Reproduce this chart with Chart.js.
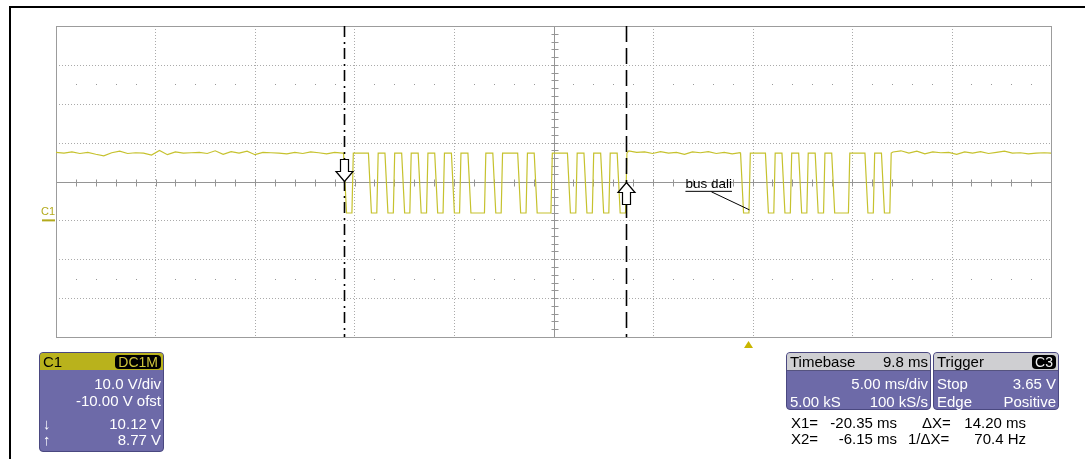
<!DOCTYPE html>
<html>
<head>
<meta charset="utf-8">
<script src="https://cdn.jsdelivr.net/npm/chart.js@4.4.1/dist/chart.umd.min.js"></script>
<style>
  body { margin:0; background:#fff; font-family:"Liberation Sans", Arial, sans-serif; }
  #wrap { position:relative; width:1085px; height:459px; overflow:hidden; }
  #frame { position:absolute; left:9px; top:6px; width:1200px; height:600px; border:2px solid #000; }
  #scope { position:absolute; left:0; top:0; }
  .box { position:absolute; box-sizing:border-box; background:#6d6aa8; border:1px solid #4a4880; border-radius:4px; color:#fff; font-size:15px; }
  .hdr { position:absolute; left:0; right:0; top:0; height:17px; line-height:17px; border-radius:3px 3px 0 0; display:flex; justify-content:space-between; align-items:center; padding:0 2px 0 3px; color:#000; }
  .yel { background:#b9b21c; }
  .gry { background:#cfcfd2; border-bottom:1px solid #55537f; }
  .badge { background:#000; border-radius:4px; padding:0 3px; line-height:14px; font-size:14px; }
  .row { position:absolute; left:3px; right:2px; height:17px; line-height:17px; display:flex; justify-content:space-between; white-space:pre; }
  .rd { position:absolute; font-size:15px; line-height:17px; color:#000; white-space:pre; }
</style>
</head>
<body>
<div id="wrap">
  <div id="frame"></div>
  <canvas id="scope" width="1085" height="459"></canvas>

  <div class="box" style="left:39px;top:352px;width:125px;height:100px">
    <div class="hdr yel"><span>C1</span><span class="badge" style="color:#cfc53c">DC1M</span></div>
    <div class="row" style="top:22px"><span></span><span>10.0 V/div</span></div>
    <div class="row" style="top:39px"><span></span><span>-10.00 V ofst</span></div>
    <div class="row" style="top:62px"><span>↓</span><span>10.12 V</span></div>
    <div class="row" style="top:78px"><span>↑</span><span>8.77 V</span></div>
  </div>

  <div class="box" style="left:786px;top:352px;width:145px;height:58px">
    <div class="hdr gry"><span>Timebase</span><span>9.8 ms</span></div>
    <div class="row" style="top:22px"><span></span><span>5.00 ms/div</span></div>
    <div class="row" style="top:40px"><span>5.00 kS</span><span>100 kS/s</span></div>
  </div>

  <div class="box" style="left:933px;top:352px;width:126px;height:58px">
    <div class="hdr gry"><span>Trigger</span><span class="badge" style="color:#eee">C3</span></div>
    <div class="row" style="top:22px"><span>Stop</span><span>3.65 V</span></div>
    <div class="row" style="top:40px"><span>Edge</span><span>Positive</span></div>
  </div>

  <div class="rd" style="left:791px;top:414px">X1=</div>
  <div class="rd" style="left:820px;top:414px;width:77px;text-align:right">-20.35 ms</div>
  <div class="rd" style="left:922px;top:414px">ΔX=</div>
  <div class="rd" style="left:950px;top:414px;width:76px;text-align:right">14.20 ms</div>
  <div class="rd" style="left:791px;top:430px">X2=</div>
  <div class="rd" style="left:820px;top:430px;width:77px;text-align:right">-6.15 ms</div>
  <div class="rd" style="left:908px;top:430px">1/ΔX=</div>
  <div class="rd" style="left:950px;top:430px;width:76px;text-align:right">70.4 Hz</div>
</div>

<script>
// screen: 10 div x 5 ms, centre at -9.8 ms ; 8 div x 10 V, centre at +10 V
const xGridMs   = [-34.8, -29.8, -24.8, -19.8, -14.8, -9.8, -4.8, 0.2, 5.2, 10.2, 15.2];
const yGridV    = [-30, -20, -10, 0, 10, 20, 30, 40, 50];
const centerMs  = -9.8;
const centerV   = 10;
const dotRowsV  = [35, -15];
const cursorMs  = [-20.35, -6.15];
const triggerMs = 0;
const groundV   = 0;

// bus levels
const highV = 17.3, lowV = 1.9;

// forward frame (start + 16 bits), edge times in ms, first edge falls
const fwdEdgesMs = [-20.35, -19.93, -19.10, -18.68, -18.27, -17.85, -17.43, -17.02, -16.60, -16.18,
                    -15.77, -15.35, -14.93, -14.52, -14.10, -13.27, -12.85, -12.43, -11.60, -11.18,
                    -10.77, -9.93, -9.10, -8.68, -8.27, -7.85, -7.43, -7.02, -6.60, -6.18];
// backward frame (start + 8 bits)
const bwdEdgesMs = [-0.40, 0.02, 0.85, 1.27, 1.68, 2.10, 2.52, 2.93, 3.35, 3.77,
                    4.18, 5.02, 5.85, 6.27, 6.68, 7.10];

// idle (high) stretches with their noise, sampled every 0.4 ms
const idleStartMs = [-34.8, -6.02, 7.26];
const idleStepMs  = 0.4;
const idle1V = [17.5, 17.3, 17.6, 17.2, 17.5, 17.0, 16.6, 17.4, 17.8, 17.2, 17.4, 17.3, 16.8, 18.0, 16.9, 17.6,
                17.3, 17.4, 17.5, 17.2, 17.9, 17.0, 17.7, 17.3, 17.8, 16.9, 17.5, 17.4, 17.3, 17.1, 17.5, 17.2,
                17.6, 17.4, 17.1, 17.5, 17.3];
const idle2V = [17.9, 17.5, 17.6, 17.2, 17.7, 17.3, 17.5, 17.0, 17.6, 17.4, 17.7, 17.2, 17.5, 17.1, 17.4];
const idle3V = [17.6, 17.9, 17.3, 17.8, 17.1, 17.6, 17.4, 17.5, 17.0, 17.6, 17.3, 17.7, 17.2, 17.5, 17.8,
                17.3, 17.4, 17.1, 17.3, 17.4, 17.3, 17.4];

const fallMs = 0.15, riseMs = 0.07;

function buildTrace()
{
  const pts    = [];
  const idles  = [idle1V, idle2V, idle3V];
  const frames = [fwdEdgesMs, bwdEdgesMs];
  idles.forEach((vals, i) => {
    vals.forEach((v, j) => pts.push({ x: idleStartMs[i] + j * idleStepMs, y: v }));
    const edges = frames[i];
    if (!edges) return;
    let level = highV;
    edges.forEach(t => {
      const next = level === highV ? lowV : highV;
      pts.push({ x: t, y: level }, { x: t + (next === lowV ? fallMs : riseMs), y: next });
      level = next;
    });
  });
  return pts;
}

function seg(ctx, x1, y1, x2, y2) { ctx.beginPath(); ctx.moveTo(x1, y1); ctx.lineTo(x2, y2); ctx.stroke(); }

function arrow(ctx, x, tipY, dir)
{
  // dir = 1 points down, -1 points up
  const h = 10 * dir, s = 22 * dir;
  ctx.beginPath();
  ctx.moveTo(x, tipY);
  ctx.lineTo(x - 8.5, tipY - h);
  ctx.lineTo(x - 4, tipY - h);
  ctx.lineTo(x - 4, tipY - s);
  ctx.lineTo(x + 4, tipY - s);
  ctx.lineTo(x + 4, tipY - h);
  ctx.lineTo(x + 8.5, tipY - h);
  ctx.closePath();
  ctx.fillStyle = '#fff'; ctx.fill();
  ctx.strokeStyle = '#000'; ctx.lineWidth = 1.2; ctx.setLineDash([]); ctx.stroke();
}

const scopeGrid = {
  id: 'scopeGrid',
  beforeDatasetsDraw(chart) {
    const { ctx, chartArea: a, scales: { x, y } } = chart;
    const px = v => Math.round(x.getPixelForValue(v)) + 0.5;
    const py = v => Math.round(y.getPixelForValue(v)) + 0.5;
    ctx.save();
    ctx.lineWidth = 1;

    // dotted divisions
    ctx.strokeStyle = '#aaa';
    ctx.setLineDash([1, 2]);
    xGridMs.slice(1, -1).forEach(v => { if (v !== centerMs) seg(ctx, px(v), a.top, px(v), a.bottom); });
    yGridV.slice(1, -1).forEach(v => { if (v !== centerV) seg(ctx, a.left, py(v), a.right, py(v)); });
    ctx.setLineDash([]);

    // dot rows at half divisions
    ctx.fillStyle = '#999';
    dotRowsV.forEach(v => {
      for (let t = xGridMs[0] + 1; t < xGridMs[xGridMs.length - 1]; t += 1) {
        const r = (t - xGridMs[0]) % 5;
        if (r < 0.01 || r > 4.99) continue;
        ctx.fillRect(Math.round(x.getPixelForValue(t)), Math.round(y.getPixelForValue(v)), 1, 1);
      }
    });

    // centre axes with minor ticks
    ctx.strokeStyle = '#959595';
    seg(ctx, a.left, py(centerV), a.right, py(centerV));
    seg(ctx, px(centerMs), a.top, px(centerMs), a.bottom);
    for (let t = xGridMs[0] + 1; t < xGridMs[xGridMs.length - 1]; t += 1)
      seg(ctx, px(t), py(centerV) - 3, px(t), py(centerV) + 4);
    for (let v = yGridV[0] + 2; v < yGridV[yGridV.length - 1]; v += 2)
      seg(ctx, px(centerMs) - 3, py(v), px(centerMs) + 4, py(v));

    // outline
    ctx.strokeStyle = '#9c9c9c';
    ctx.strokeRect(a.left + 0.5, a.top + 0.5, a.right - a.left, a.bottom - a.top);
    ctx.restore();
  },
  afterDatasetsDraw(chart) {
    const { ctx, chartArea: a, scales: { x, y } } = chart;
    ctx.save();

    // cursors
    ctx.strokeStyle = '#000';
    ctx.lineWidth = 1.6;
    const c1 = Math.round(x.getPixelForValue(cursorMs[0])) + 0.5;
    const c2 = Math.round(x.getPixelForValue(cursorMs[1])) + 0.5;
    ctx.setLineDash([11, 5, 2, 4]);
    seg(ctx, c1, a.top, c1, a.bottom);
    ctx.setLineDash([16, 6]);
    seg(ctx, c2, a.top, c2, a.bottom);
    const yc = y.getPixelForValue(centerV);
    arrow(ctx, c1, yc, 1);
    arrow(ctx, c2, yc + 1, -1);

    // bus dali annotation
    const lx = x.getPixelForValue(-3.17), ly = y.getPixelForValue(9.4);
    ctx.fillStyle = '#000';
    ctx.font = '13.5px "Liberation Sans", Arial, sans-serif';
    ctx.textBaseline = 'middle';
    ctx.fillText('bus dali', lx, ly);
    const w = ctx.measureText('bus dali').width;
    ctx.lineWidth = 1;
    seg(ctx, lx, ly + 7.5, lx + w, ly + 7.5);
    seg(ctx, lx + 26, ly + 8, x.getPixelForValue(0.05), y.getPixelForValue(2.7));

    // ground marker C1
    const gy = y.getPixelForValue(groundV);
    ctx.fillStyle = '#b3aa1c';
    ctx.font = '11px "Liberation Sans", Arial, sans-serif';
    ctx.textBaseline = 'alphabetic';
    ctx.fillText('C1', a.left - 15, gy - 5);
    ctx.fillRect(a.left - 14, gy - 1, 13, 2);

    // trigger position
    const tx = x.getPixelForValue(triggerMs);
    ctx.fillStyle = '#c9b600';
    ctx.beginPath();
    ctx.moveTo(tx, a.bottom + 4);
    ctx.lineTo(tx + 4.5, a.bottom + 11);
    ctx.lineTo(tx - 4.5, a.bottom + 11);
    ctx.closePath();
    ctx.fill();
    ctx.restore();
  }
};

new Chart(document.getElementById('scope'), {
  type: 'line',
  data: {
    datasets: [{
      data: buildTrace(),
      borderColor: 'rgb(198,194,46)',
      borderWidth: 1.2,
      pointRadius: 0,
      tension: 0
    }]
  },
  options: {
    responsive: false,
    animation: false,
    devicePixelRatio: 1,
    layout: { padding: { left: 56, top: 26, right: 34, bottom: 122 } },
    plugins: { legend: { display: false }, tooltip: { enabled: false } },
    scales: {
      x: { type: 'linear', min: xGridMs[0], max: xGridMs[xGridMs.length - 1], display: false },
      y: { min: yGridV[0], max: yGridV[yGridV.length - 1], display: false }
    }
  },
  plugins: [scopeGrid]
});
</script>
</body>
</html>
